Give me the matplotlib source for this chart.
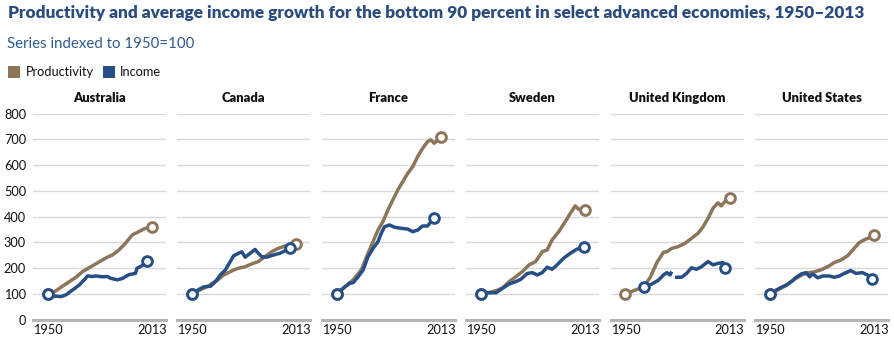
import numpy as np
import matplotlib
matplotlib.use("Agg")
import matplotlib.pyplot as plt
from matplotlib.patches import Rectangle

plt.rcParams['font.family'] = ['Lato', 'DejaVu Sans']

# ------------------------------------------------------------------
# series, indexed to 1950 = 100
countries = ["Australia", "Canada", "France", "Sweden", "United Kingdom", "United States"]

aus_prod_years = [1950, 1955, 1959, 1963, 1967, 1971, 1975, 1979, 1983, 1986, 1989, 1993, 1997, 2001, 2005, 2009, 2013]
aus_prod = [100, 113, 131, 148, 165, 187, 202, 217, 232, 243, 251, 271, 297, 329, 342, 355, 361]
aus_inc_years = [1950, 1951, 1954, 1958, 1961, 1965, 1969, 1972, 1974, 1977, 1979, 1983, 1986, 1988, 1990, 1992, 1995, 1999, 2003, 2004, 2007, 2010]
aus_inc = [100, 95, 92, 90, 97, 116, 135, 155, 170, 168, 170, 167, 168, 161, 158, 155, 160, 175, 180, 200, 210, 230]

can_prod_years = [1950, 1955, 1960, 1962, 1965, 1969, 1975, 1978, 1982, 1986, 1990, 1994, 1998, 2002, 2006, 2010, 2013]
can_prod = [100, 117, 132, 142, 152, 174, 193, 200, 206, 217, 226, 245, 264, 277, 286, 290, 293]
can_inc_years = [1950, 1954, 1957, 1961, 1964, 1967, 1970, 1973, 1975, 1978, 1980, 1982, 1985, 1988, 1990, 1992, 1995, 1999, 2003, 2005, 2009]
can_inc = [100, 118, 128, 130, 148, 174, 193, 226, 248, 258, 264, 243, 258, 273, 258, 245, 243, 251, 258, 264, 277]

fra_prod_years = [1950, 1955, 1960, 1965, 1969, 1972, 1975, 1978, 1981, 1984, 1987, 1990, 1993, 1996, 1999, 2002, 2005, 2007, 2009, 2013]
fra_prod = [100, 128, 155, 195, 258, 303, 348, 381, 426, 465, 504, 536, 568, 594, 633, 665, 691, 698, 685, 708]
fra_inc_years = [1950, 1955, 1958, 1960, 1963, 1966, 1969, 1972, 1975, 1977, 1979, 1982, 1985, 1989, 1993, 1996, 1999, 2002, 2005, 2009]
fra_inc = [100, 128, 142, 144, 167, 193, 245, 277, 303, 336, 361, 368, 359, 355, 352, 342, 348, 364, 364, 395]

swe_prod_years = [1950, 1955, 1960, 1963, 1967, 1971, 1975, 1979, 1983, 1987, 1990, 1993, 1997, 2001, 2004, 2007, 2009, 2013]
swe_prod = [100, 106, 115, 124, 148, 167, 187, 213, 226, 264, 271, 310, 342, 381, 413, 442, 429, 425]
swe_inc_years = [1950, 1952, 1955, 1959, 1963, 1967, 1971, 1974, 1978, 1981, 1984, 1987, 1990, 1993, 1996, 2000, 2004, 2008, 2012]
swe_inc = [100, 104, 105, 105, 122, 139, 148, 157, 180, 183, 174, 183, 204, 196, 213, 239, 258, 274, 281]

gbr_prod_years = [1950, 1955, 1961, 1965, 1969, 1973, 1975, 1978, 1982, 1986, 1990, 1994, 1997, 2000, 2003, 2006, 2008, 2010, 2013]
gbr_prod = [100, 113, 128, 165, 222, 262, 264, 277, 284, 297, 316, 336, 361, 394, 433, 454, 442, 458, 471]
gbr_inc_years = [1961, 1963, 1966, 1970, 1973, 1975, 1977, 1978, 1979, 1980, 1984, 1987, 1990, 1993, 1996, 2000, 2003, 2006, 2009, 2010]
gbr_inc = [128, 132, 139, 154, 174, 183, 174, 187, np.nan, 165, 165, 180, 202, 196, 206, 226, 213, 219, 222, 200]

usa_prod_years = [1950, 1955, 1960, 1965, 1970, 1973, 1977, 1981, 1985, 1989, 1993, 1997, 2001, 2004, 2007, 2010, 2013]
usa_prod = [100, 117, 134, 158, 176, 182, 186, 194, 206, 222, 232, 248, 277, 299, 310, 318, 328]
usa_inc_years = [1950, 1954, 1957, 1960, 1963, 1966, 1969, 1972, 1974, 1976, 1979, 1982, 1986, 1989, 1992, 1996, 1999, 2002, 2006, 2009, 2012]
usa_inc = [100, 116, 126, 135, 148, 165, 178, 183, 167, 178, 163, 170, 170, 165, 170, 183, 191, 180, 183, 174, 160]

prod_series = [(aus_prod_years, aus_prod), (can_prod_years, can_prod), (fra_prod_years, fra_prod),
               (swe_prod_years, swe_prod), (gbr_prod_years, gbr_prod), (usa_prod_years, usa_prod)]
inc_series = [(aus_inc_years, aus_inc), (can_inc_years, can_inc), (fra_inc_years, fra_inc),
              (swe_inc_years, swe_inc), (gbr_inc_years, gbr_inc), (usa_inc_years, usa_inc)]

y_ticks = [0, 100, 200, 300, 400, 500, 600, 700, 800]
x_ticks = [1950, 2013]

PROD_COL = "#8c7558"
INC_COL = "#264f86"
TITLE_COL = "#2b4c7e"
GRID_COL = "#d9d9d9"

W, H = 894, 340
fig = plt.figure(figsize=(W / 100, H / 100), dpi=100)

def fx(px):
	return px / W

def fy(py):
	return 1 - py / H

# ------------------------------------------------------------------
left0, pw, gap = 33, 133, 11.4
top_px, bot_px = 113.6, 319.8

def draw_series(ax, xs, ys, col):
	xs = np.array(xs, dtype=float)
	ys = np.array(ys, dtype=float)
	ax.plot(xs, ys, color=col, lw=2.5, solid_capstyle='butt', zorder=3, clip_on=False)
	ok = ~np.isnan(ys)
	ends = [np.where(ok)[0][0], np.where(ok)[0][-1]]
	ax.plot(xs[ends], ys[ends], ls='none', marker='o', ms=7, mfc='white', mec=col,
			mew=2.1, zorder=4, clip_on=False)

for i, name in enumerate(countries):
	ax = fig.add_axes([fx(left0 + i * (pw + gap)), fy(bot_px), fx(pw), (bot_px - top_px) / H])
	ax.set_xlim(1941, 2021.5)
	ax.set_ylim(0, 800)
	for v in y_ticks[1:]:
		ax.axhline(v, color=GRID_COL, lw=1.0, zorder=1)
	ax.axhline(0, color="#b5b5b5", lw=2.2, zorder=2, clip_on=False)
	for s in ax.spines.values():
		s.set_visible(False)
	ax.set_yticks(y_ticks)
	ax.set_xticks(x_ticks)
	ax.tick_params(length=0, labelsize=9.2, colors="#111111", pad=3)
	ax.tick_params(axis='y', pad=5)
	if i > 0:
		ax.set_yticklabels([])
	draw_series(ax, prod_series[i][0], prod_series[i][1], PROD_COL)
	draw_series(ax, inc_series[i][0], inc_series[i][1], INC_COL)
	ax.set_title(name, fontsize=9.4, fontweight='heavy', color="#111111", pad=8)

# ------------------------------------------------------------------
fig.text(fx(8), fy(13), "Productivity and average income growth for the bottom 90 percent in select advanced economies, 1950\u20132013",
		 fontsize=12.4, fontweight='heavy', color=TITLE_COL, va='center', ha='left')
fig.text(fx(7), fy(44), "Series indexed to 1950=100", fontsize=10.8, color="#2e5a8e", va='center', ha='left')

fig.add_artist(Rectangle((fx(8), fy(78)), fx(12), 12 / H, transform=fig.transFigure, color=PROD_COL, lw=0))
fig.text(fx(26), fy(72), "Productivity", fontsize=9.2, color="#111111", va='center', ha='left')
fig.add_artist(Rectangle((fx(103), fy(78)), fx(12), 12 / H, transform=fig.transFigure, color=INC_COL, lw=0))
fig.text(fx(120), fy(72), "Income", fontsize=9.2, color="#111111", va='center', ha='left')

fig.savefig("out.png", dpi=100)
